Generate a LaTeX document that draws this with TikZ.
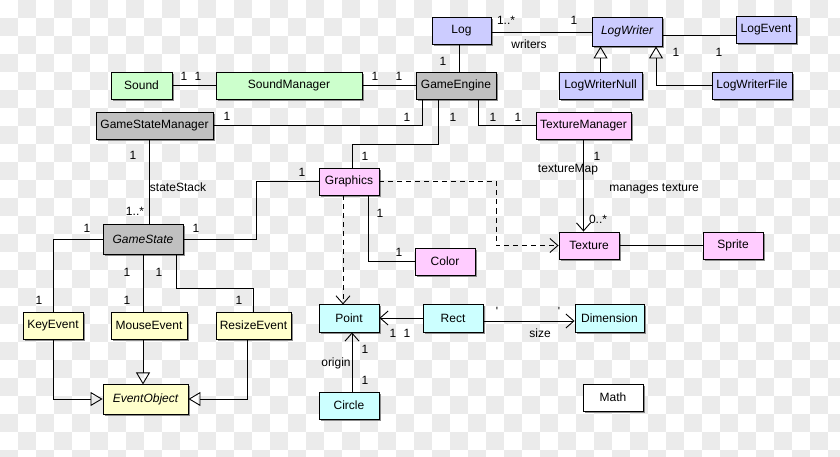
\documentclass[tikz,border=0pt]{standalone}
\usepackage{fontspec}
\setmainfont{Liberation Sans}
\usetikzlibrary{arrows.meta,shadows}

\definecolor{chkgray}{RGB}{235,235,235}
\definecolor{boxgreen}{RGB}{204,255,204}
\definecolor{boxgray}{RGB}{192,192,192}
\definecolor{boxblue}{RGB}{204,204,255}
\definecolor{boxpink}{RGB}{255,204,255}
\definecolor{boxyellow}{RGB}{255,255,204}
\definecolor{boxcyan}{RGB}{204,255,255}

\begin{document}
\begin{tikzpicture}[
    x=1pt, y=-1pt,
    font=\fontsize{12}{14}\selectfont,
    box/.style={draw, line width=0.9pt, inner sep=0pt, minimum height=27pt, minimum width=60pt,
        drop shadow={shadow xshift=2pt, shadow yshift=-2pt, fill=black!45, opacity=1}},
    greenbox/.style={box, fill=boxgreen},
    graybox/.style={box, fill=boxgray},
    bluebox/.style={box, fill=boxblue},
    pinkbox/.style={box, fill=boxpink},
    yellowbox/.style={box, fill=boxyellow},
    cyanbox/.style={box, fill=boxcyan},
    whitebox/.style={box, fill=white},
    abstract/.style={font=\fontsize{12}{14}\selectfont\itshape},
    lbl/.style={inner sep=0pt},
    assoc/.style={line width=0.9pt},
    inherit/.style={assoc, -{Triangle[open, length=12pt, width=14pt]}},
    navig/.style={assoc, -{Straight Barb[length=8pt, width=14pt]}},
    depend/.style={navig, dash pattern=on 5pt off 4pt}
]

% background checkerboard
\useasboundingbox (0,0) rectangle (840,457);
\fill[white] (0,0) rectangle (840,457);
\begin{scope}
\clip (0,0) rectangle (840,457);
\foreach \i in {0,...,46}
  \foreach \j in {0,...,25}
    {\ifodd\numexpr\i+\j\relax \fill[chkgray] (\i*18,\j*18) rectangle ++(18,18); \fi}
\end{scope}

% classes
\node[greenbox, minimum width=61pt] (sound) at (141.5,85.5) {Sound};
\node[greenbox, minimum width=146pt] (sndmgr) at (289,85.5) {SoundManager};
\node[graybox, minimum width=80pt] (engine) at (456,85.5) {GameEngine};
\node[bluebox, minimum width=59pt] (log) at (461.5,30.5) {Log};
\node[bluebox, abstract, minimum width=70pt, minimum height=29pt] (logwriter) at (627,31.5) {LogWriter};
\node[bluebox] (logevent) at (766,30) {LogEvent};
\node[bluebox, minimum width=83pt] (lognull) at (600.5,85.5) {LogWriterNull};
\node[bluebox, minimum width=80pt] (logfile) at (752,85.5) {LogWriterFile};
\node[graybox, minimum width=117pt] (statemgr) at (154.5,125.5) {GameStateManager};
\node[pinkbox, minimum width=95pt] (texmgr) at (583.5,125.5) {TextureManager};
\node[pinkbox] (graphics) at (349,181.5) {Graphics};
\node[graybox, abstract, minimum width=80pt, minimum height=30pt] (state) at (143,239) {GameState};
\node[pinkbox] (texture) at (589,245.5) {Texture};
\node[pinkbox] (sprite) at (733,245.5) {Sprite};
\node[pinkbox] (color) at (445,261.5) {Color};
\node[yellowbox] (keyev) at (53,325.5) {KeyEvent};
\node[yellowbox, minimum width=76pt] (mouseev) at (149,325.5) {MouseEvent};
\node[yellowbox, minimum width=75pt] (resizeev) at (253.5,325.5) {ResizeEvent};
\node[yellowbox, abstract, minimum width=85pt, minimum height=30pt] (eventobj) at (145.5,399) {EventObject};
\node[cyanbox, minimum height=28pt] (point) at (349,318) {Point};
\node[cyanbox, minimum height=28pt] (rect) at (453,318) {Rect};
\node[cyanbox, minimum width=69pt, minimum height=28pt] (dimension) at (609.5,318) {Dimension};
\node[cyanbox] (circle) at (349,405.5) {Circle};
\node[whitebox] (math) at (613,397.5) {Math};

% sound and log
\draw[assoc] (sound) -- (sndmgr);
\draw[assoc] (sndmgr) -- (engine);
\draw[assoc] ([xshift=-2.5pt]log.south) -- ++(0,29);
\draw[assoc] ([yshift=-1.5pt]log.east) -- ([yshift=-0.5pt]logwriter.west);
\draw[assoc] ([yshift=-3.5pt]logwriter.east) -- ([yshift=-5pt]logevent.west);
\draw[inherit] (lognull.north) -- (lognull.north |- logwriter.south);
\draw[inherit] (logfile.west) -| ([xshift=29pt]logwriter.south);

% engine
\draw[assoc] ([xshift=7pt]engine.south west) |- (statemgr.east);
\draw[assoc] ([xshift=23pt]engine.south west) -- ++(0,45) -| ([xshift=3pt]graphics.north);
\draw[assoc] ([xshift=63pt]engine.south west) |- (texmgr.west);
\draw[navig] (texmgr.south) -- (texmgr.south |- texture.north);

% states and events
\draw[assoc] ([xshift=-5.5pt]statemgr.south) -- ++(0,85);
\draw[assoc] (state.west) -| (keyev.north);
\draw[assoc] (state.east) -- ++(73,0) |- (graphics.west);
\draw[assoc] (state.south) -- (state.south |- mouseev.north);
\draw[assoc] ([xshift=33pt]state.south) -- ++(0,34) -| (resizeev.north);
\draw[inherit] ([xshift=-6pt]mouseev.south) -- ++(0,45);
\draw[inherit] (keyev.south) |- (eventobj.west);
\draw[inherit] ([xshift=-6.5pt]resizeev.south) |- (eventobj.east);

% graphics
\draw[assoc] ([xshift=19pt]graphics.south) |- (color.west);
\draw[depend] (graphics.east) -- ++(117,0) |- (texture.west);
\draw[depend] ([xshift=-6pt]graphics.south) -- ++(0,109);
\draw[assoc] (texture) -- (sprite);

% math
\draw[navig] (rect.west) -- (point.east);
\draw[navig] ([yshift=-3pt]rect.east) -- ([yshift=-3pt]dimension.west);
\draw[navig] ([xshift=3pt]circle.north) -- ([xshift=3pt]point.south);

% multiplicities and roles
\foreach \x/\y/\txt [count=\n] in {184/76/1, 198/76/1, 375/76/1, 399/76/1, 443/61/1,
    506/20/1..*, 574/20/1, 529/44/writers, 676/52/1, 719/52/1,
    227/116/1, 407/117/1, 453/117/1, 365/156/1, 493/117/1, 518/117/1,
    597/156/1, 568/170/textureMap, 654/189/manages texture, 598/219/0..*,
    133/155/1, 178/187/stateStack, 135/211/1..*, 87/228/1, 39/300/1,
    196/228/1, 302/172/1, 127/272/1, 127/300/1, 159/272/1, 239/300/1,
    380/213/1, 399/252/1, 393/333/1, 407/333/1, 365/349/1, 365/380/1,
    336/363/origin, 497/311/\textquotesingle, 559/311/\textquotesingle, 540/333/size}
  \node[lbl] (lbl\n) at (\x,\y) {\txt};

\end{tikzpicture}
\end{document}
